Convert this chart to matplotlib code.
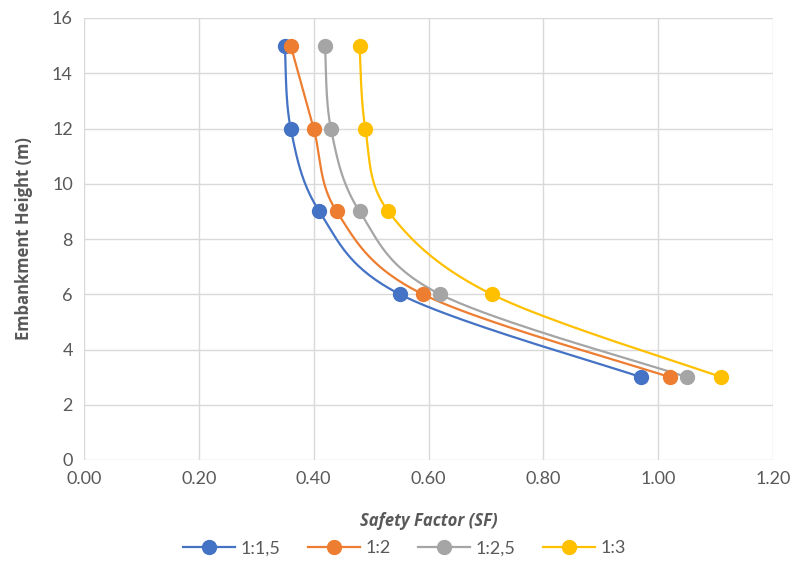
import numpy as np
import matplotlib
matplotlib.use("Agg")
import matplotlib.pyplot as plt

heights = [3, 6, 9, 12, 15]
series_names = ["1:1,5", "1:2", "1:2,5", "1:3"]
sf_1_1_5 = [0.97, 0.55, 0.41, 0.36, 0.35]
sf_1_2 = [1.02, 0.59, 0.44, 0.40, 0.36]
sf_1_2_5 = [1.05, 0.62, 0.48, 0.43, 0.42]
sf_1_3 = [1.11, 0.71, 0.53, 0.49, 0.48]
colors = ["#4472C4", "#ED7D31", "#A5A5A5", "#FFC000"]
xticks = [0.0, 0.2, 0.4, 0.6, 0.8, 1.0, 1.2]
yticks = [0, 2, 4, 6, 8, 10, 12, 14, 16]

plt.rcParams['font.family'] = ['Lato', 'DejaVu Sans']
txt = "#595959"

fig = plt.figure(figsize=(7.96, 5.62), dpi=100)
ax = fig.add_axes([84/796, 1-460/562, (773-84)/796, (460-18)/562])
ax.set_xlim(0, 1.2)
ax.set_ylim(0, 16)
fig.canvas.draw()

def smooth(xs, ys, n=40):
    pts = ax.transData.transform(np.column_stack([xs, ys]))
    P = np.vstack([pts[0], pts, pts[-1]])
    out = []
    for i in range(1, len(P) - 2):
        p0, p1, p2, p3 = P[i-1], P[i], P[i+1], P[i+2]
        c1 = p1 + (p2 - p0) / 6
        c2 = p2 - (p3 - p1) / 6
        t = np.linspace(0, 1, n)[:, None]
        seg = (1-t)**3*p1 + 3*(1-t)**2*t*c1 + 3*(1-t)*t**2*c2 + t**3*p2
        out.append(seg if i == 1 else seg[1:])
    out = np.vstack(out)
    return ax.transData.inverted().transform(out)

for name, vals, c in zip(series_names, [sf_1_1_5, sf_1_2, sf_1_2_5, sf_1_3], colors):
    cur = smooth(vals, heights)
    ax.plot(cur[:, 0], cur[:, 1], color=c, lw=1.6, zorder=2)
    ax.plot(vals, heights, 'o', color=c, ms=10, zorder=3)
    ax.plot([], [], '-o', color=c, lw=1.6, ms=10, label=name)

ax.set_xticks(xticks)
ax.set_xticklabels([f"{v:.2f}" for v in xticks])
ax.set_yticks(yticks)
ax.grid(True, color="#D9D9D9", lw=1)
ax.set_axisbelow(True)
for s in ax.spines.values():
    s.set_visible(False)
ax.tick_params(length=0, colors=txt, labelsize=13, pad=8)
lab_family = ['Open Sans', 'DejaVu Sans']
ax.set_xlabel("Safety Factor (SF)", fontsize=12, fontweight='bold', fontstyle='italic',
              color=txt, labelpad=18, family=lab_family)
ax.set_ylabel("Embankment Height (m)", fontsize=12, fontweight='bold', color=txt,
              labelpad=14, family=lab_family)
leg = ax.legend(loc='center', bbox_to_anchor=(0.465, -0.2), ncol=4, frameon=False,
                fontsize=13, handlelength=2.9, columnspacing=1.5, handletextpad=0.3)
for t in leg.get_texts():
    t.set_color(txt)
fig.savefig("out.png", dpi=100)
